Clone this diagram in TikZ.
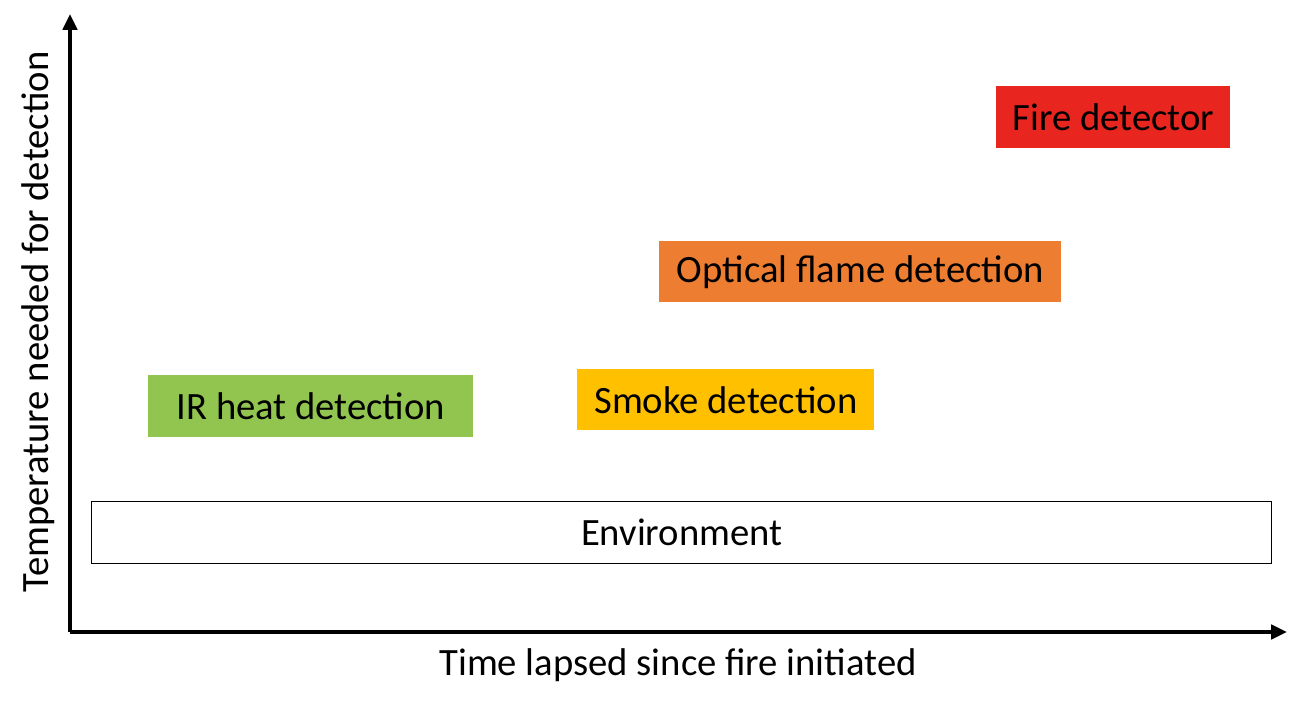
\documentclass[tikz,border=0pt]{standalone}
\usepackage{fontspec}
\setmainfont{Carlito}
\usetikzlibrary{arrows.meta}
\definecolor{cred}{HTML}{E8261F}
\definecolor{corange}{HTML}{ED7D31}
\definecolor{cyellow}{HTML}{FFC000}
\definecolor{cgreen}{HTML}{92C450}
\begin{document}
\begin{tikzpicture}[x=0.02cm,y=-0.02cm,
  box/.style={draw=none,anchor=north west,inner sep=0pt,font=\fontsize{22}{26}\selectfont,align=center},
  axis/.style={line width=2.2pt,-{Triangle[length=9pt,width=8pt]}},
  lab/.style={font=\fontsize{22}{26}\selectfont}]
\useasboundingbox (0,0) rectangle (1300,712);
\node[box,fill=cred,minimum width=234*0.02cm,minimum height=62*0.02cm] (fd) at (996,86) {Fire detector};
\node[box,fill=corange,minimum width=402*0.02cm,minimum height=61*0.02cm] (of) at (659,241) {Optical flame detection};
\node[box,fill=cyellow,minimum width=297*0.02cm,minimum height=61*0.02cm] (sd) at (577,369) {Smoke detection};
\node[box,fill=cgreen,minimum width=325*0.02cm,minimum height=62*0.02cm] (ir) at (148,375) {IR heat detection};
\node[box,draw=black,line width=0.8pt,fill=white,minimum width=1180*0.02cm,minimum height=62*0.02cm] (env) at (91,501) {Environment};
\coordinate (o) at (70,632);
\coordinate (yt) at (70,14);
\coordinate (xt) at (1287,632);
\draw[axis] (o) -- (yt);
\draw[axis] (o) -- (xt);
\node[lab,rotate=90] (yl) at (38,322) {Temperature needed for detection};
\node[lab] (xl) at (678,665) {Time lapsed since fire initiated};
\end{tikzpicture}
\end{document}
